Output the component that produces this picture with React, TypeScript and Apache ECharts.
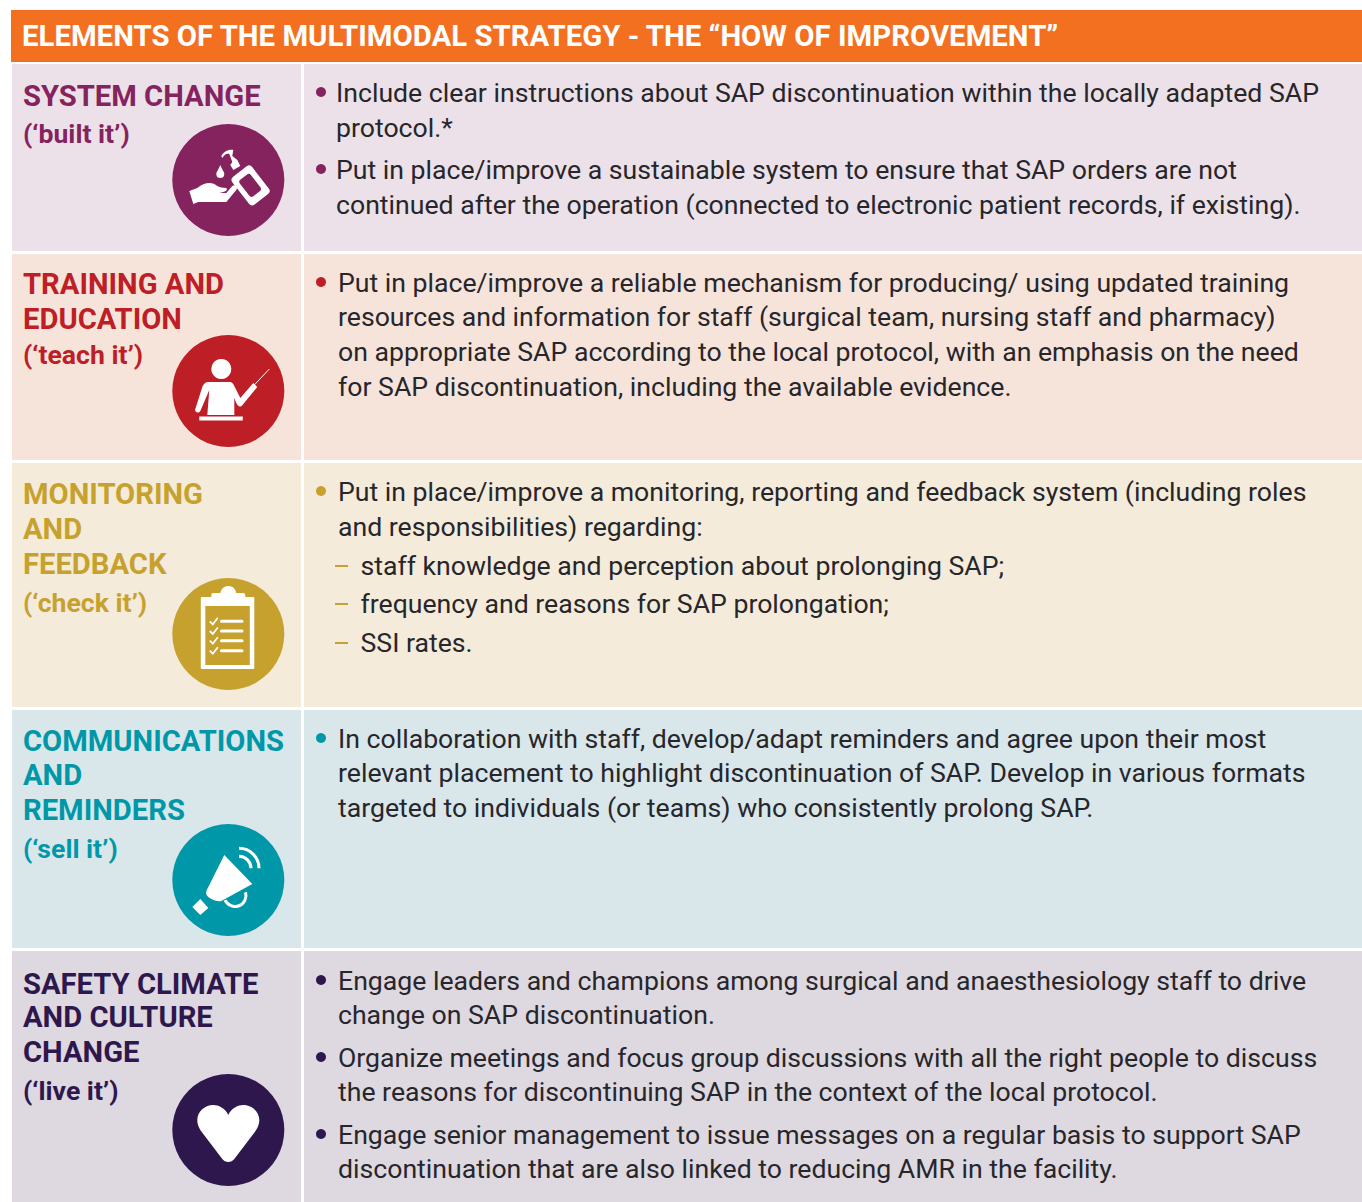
import React, { useEffect, useRef } from "react";
import * as echarts from "echarts";

const headerText = "ELEMENTS OF THE MULTIMODAL STRATEGY - THE “HOW OF IMPROVEMENT”";
const titleLines = [
  ["SYSTEM CHANGE", "(‘built it’)"],
  ["TRAINING AND", "EDUCATION", "(‘teach it’)"],
  ["MONITORING", "AND", "FEEDBACK", "(‘check it’)"],
  ["COMMUNICATIONS", "AND", "REMINDERS", "(‘sell it’)"],
  ["SAFETY CLIMATE", "AND CULTURE", "CHANGE", "(‘live it’)"],
];
const bodyLines = [
  [
    "Include clear instructions about SAP discontinuation within the locally adapted SAP",
    "protocol.*",
    "Put in place/improve a sustainable system to ensure that SAP orders are not",
    "continued after the operation (connected to electronic patient records, if existing).",
  ],
  [
    "Put in place/improve a reliable mechanism for producing/ using updated training",
    "resources and information for staff (surgical team, nursing staff and pharmacy)",
    "on appropriate SAP according to the local protocol, with an emphasis on the need",
    "for SAP discontinuation, including the available evidence.",
  ],
  [
    "Put in place/improve a monitoring, reporting and feedback system (including roles",
    "and responsibilities) regarding:",
    "staff knowledge and perception about prolonging SAP;",
    "frequency and reasons for SAP prolongation;",
    "SSI rates.",
  ],
  [
    "In collaboration with staff, develop/adapt reminders and agree upon their most",
    "relevant placement to highlight discontinuation of SAP. Develop in various formats",
    "targeted to individuals (or teams) who consistently prolong SAP.",
  ],
  [
    "Engage leaders and champions among surgical and anaesthesiology staff to drive",
    "change on SAP discontinuation.",
    "Organize meetings and focus group discussions with all the right people to discuss",
    "the reasons for discontinuing SAP in the context of the local protocol.",
    "Engage senior management to issue messages on a regular basis to support SAP",
    "discontinuation that are also linked to reducing AMR in the facility.",
  ],
];

// layout
const rowBounds = [[64, 251], [254, 460], [463, 707], [710, 948], [951, 1202]];
const titleYs = [[95.5, 133], [284, 319, 354], [494, 529, 564, 602], [741, 775, 810, 848], [984, 1017, 1052, 1090]];
const bodyYs = [[93, 128, 170, 205], [283, 317, 352, 387], [492, 527, 566, 604, 643], [739, 773, 808], [981, 1015, 1058, 1092, 1135, 1169]];
const bodyX = [336, 338, 338, 338, 338];
const bulletLines = [[0, 2], [0], [0], [0], [0, 2, 4]];
const dashLines = [[], [], [2, 3, 4], [], []];
const iconYs = [180, 391, 634, 880, 1130];
const accent = ["#85235F", "#BE1E25", "#C7A12E", "#0098A9", "#2E174D"];
const rowBg = ["#ECE1E8", "#F6E4DB", "#F4EBDA", "#D9E7EB", "#DED8E0"];
const bodyColor = "#27262B";
const white = "#FFFFFF";

echarts.graphic.registerShape("mmHand", echarts.graphic.extendPath(
  "M-39,11 L-31,8 C-25,3 -19,2 -14,4 C-10,7 -6,8 -2,8 C0,10 -3,12 -9,13 L-2,13 L4,6 C7,4 10,7 8,10 L-2,22 L-30,22 L-35,24 Z", {}));
echarts.graphic.registerShape("mmDrop", echarts.graphic.extendPath(
  "M-8,-15 C-6,-10 -4,-8 -4,-6 C-4,-3 -6,-2 -8,-2 C-10,-2 -12,-3 -12,-6 C-12,-8 -10,-10 -8,-15 Z", {}));
echarts.graphic.registerShape("mmPump", echarts.graphic.extendPath(
  "M-7,-24 C-5,-28 0,-31 5,-30 L4,-24 L9,-20 L12,-14 L5,-10 L2,-15 L4,-18 L1,-26 C-2,-27 -4,-25 -6,-22 Z", {}));
echarts.graphic.registerShape("mmBody", echarts.graphic.extendPath(
  "M-20,-9 L1,-9 C4,-9 5,-7 6,-5 L12,7 L25,-8 L29,-4 L15,13 C12,17 10,16 8,12 L6,7 L6,24 L-21,24 L-19,-1 L-28,20 C-30,23 -34,21 -33,18 L-26,-4 C-25,-7 -23,-9 -20,-9 Z", {}));
echarts.graphic.registerShape("mmHorn", echarts.graphic.extendPath(
  "M-4,-25 L24,4 L-7,21 C-12,22 -18,19 -21,16 C-23,13 -22,11 -21,9 Z", {}));
echarts.graphic.registerShape("mmHeart", echarts.graphic.extendPath(
  "M0,-15 C3,-22 10,-25 15,-25 C24,-25 31,-18 31,-10 C31,-4 28,0 25,4 L6,29 C3,33 -3,33 -6,29 L-25,4 C-28,0 -31,-4 -31,-10 C-31,-18 -24,-25 -15,-25 C-10,-25 -3,-22 0,-15 Z", {}));

function iconChildren(i: number, bg: string): any[] {
  const w = { fill: white };
  if (i === 0)
    return [
      { type: "mmHand", style: w },
      { type: "mmDrop", style: w },
      { type: "mmPump", style: w },
      { type: "rect", x: 22, y: 5, rotation: 0.66, originX: 0, originY: 0, shape: { x: -12.5, y: -17, width: 25, height: 35, r: 4 }, style: w },
      { type: "rect", x: 21.5, y: 5, rotation: 0.66, originX: 0, originY: 0, shape: { x: -7, y: -10, width: 14, height: 21, r: 3 }, style: { fill: bg } },
    ];
  if (i === 1)
    return [
      { type: "circle", shape: { cx: -7, cy: -22, r: 10 }, style: w },
      { type: "mmBody", style: w },
      { type: "line", shape: { x1: 26, y1: -6, x2: 41, y2: -22 }, style: { stroke: white, lineWidth: 1 } },
      { type: "rect", shape: { x: -29, y: 25.5, width: 43.5, height: 4 }, style: w },
    ];
  if (i === 2) {
    const rows = [-12.7, -3, 6.7, 16.7];
    return [
      { type: "circle", shape: { cx: 0, cy: -40, r: 8 }, style: w },
      { type: "rect", shape: { x: -17, y: -41, width: 34, height: 6, r: 2 }, style: w },
      { type: "rect", shape: { x: -27.5, y: -37, width: 53.5, height: 72, r: 1 }, style: w },
      { type: "rect", shape: { x: -23, y: -28, width: 44.5, height: 59 }, style: { fill: bg } },
      ...rows.flatMap((y) => [
        { type: "rect", shape: { x: -8.3, y: y - 1.5, width: 23.5, height: 3, r: 1.5 }, style: w },
        { type: "polyline", shape: { points: [[-18.5, y], [-15.5, y + 3], [-10.5, y - 3.5]] }, style: { stroke: white, lineWidth: 1.8, fill: "none" } },
      ]),
    ];
  }
  if (i === 3)
    return [
      { type: "arc", shape: { cx: 6.7, cy: 15.5, r: 11, startAngle: -0.3, endAngle: 2.7, clockwise: true }, style: { stroke: white, lineWidth: 3, fill: "none" } },
      { type: "mmHorn", style: w },
      { type: "polygon", shape: { points: [[-28, 19], [-20, 28], [-28, 35], [-36, 27]] }, style: w },
      { type: "arc", shape: { cx: 10.7, cy: -11.7, r: 12, startAngle: -Math.PI / 2, endAngle: 0, clockwise: true }, style: { stroke: white, lineWidth: 3, fill: "none" } },
      { type: "arc", shape: { cx: 10.7, cy: -11.7, r: 20, startAngle: -Math.PI / 2, endAngle: 0, clockwise: true }, style: { stroke: white, lineWidth: 3, fill: "none" } },
    ];
  return [{ type: "mmHeart", style: w }];
}

function buildElements(): any[] {
  const els: any[] = [];
  const font = "Roboto";
  els.push({ type: "rect", shape: { x: 11, y: 10, width: 1351, height: 52 }, style: { fill: "#F47021" } });
  els.push({ type: "text", x: 22, y: 36, style: { text: headerText, fill: white, font: `700 29.37px ${font}`, verticalAlign: "middle" } });
  rowBounds.forEach(([t, b], i) => {
    els.push({ type: "rect", shape: { x: 12, y: t, width: 289, height: b - t }, style: { fill: rowBg[i] } });
    els.push({ type: "rect", shape: { x: 304, y: t, width: 1058, height: b - t }, style: { fill: rowBg[i] } });
    titleLines[i].forEach((line, k) => {
      const isTag = k === titleLines[i].length - 1;
      els.push({ type: "text", x: 23, y: titleYs[i][k], style: { text: line, fill: accent[i], font: `700 ${isTag ? 26.6 : 29.2}px ${font}`, verticalAlign: "middle" } });
    });
    bodyLines[i].forEach((line, k) => {
      const isSub = dashLines[i].includes(k);
      els.push({ type: "text", x: isSub ? 360.5 : bodyX[i], y: bodyYs[i][k], style: { text: line, fill: bodyColor, font: `400 26.65px ${font}`, verticalAlign: "middle" } });
    });
    bulletLines[i].forEach((k) => {
      els.push({ type: "circle", shape: { cx: 321, cy: bodyYs[i][k] - 1, r: 5 }, style: { fill: accent[i] } });
    });
    dashLines[i].forEach((k) => {
      els.push({ type: "rect", shape: { x: 335, y: bodyYs[i][k] - 1, width: 13, height: 2 }, style: { fill: accent[i] } });
    });
    els.push({
      type: "group",
      x: 228.3,
      y: iconYs[i],
      children: [
        { type: "circle", shape: { cx: 0, cy: 0, r: 56 }, style: { fill: accent[i] } },
        ...iconChildren(i, accent[i]),
      ],
    });
  });
  return els;
}

export default function App() {
  const ref = useRef<HTMLDivElement>(null);
  useEffect(() => {
    document.body.style.margin = "0";
    const chart = echarts.init(ref.current!, null, { renderer: "svg" });
    chart.setOption({ animation: false, backgroundColor: "#FFFFFF", graphic: { elements: buildElements() } });
    return () => chart.dispose();
  }, []);
  return <div ref={ref} style={{ width: 1362, height: 1202 }} />;
}
